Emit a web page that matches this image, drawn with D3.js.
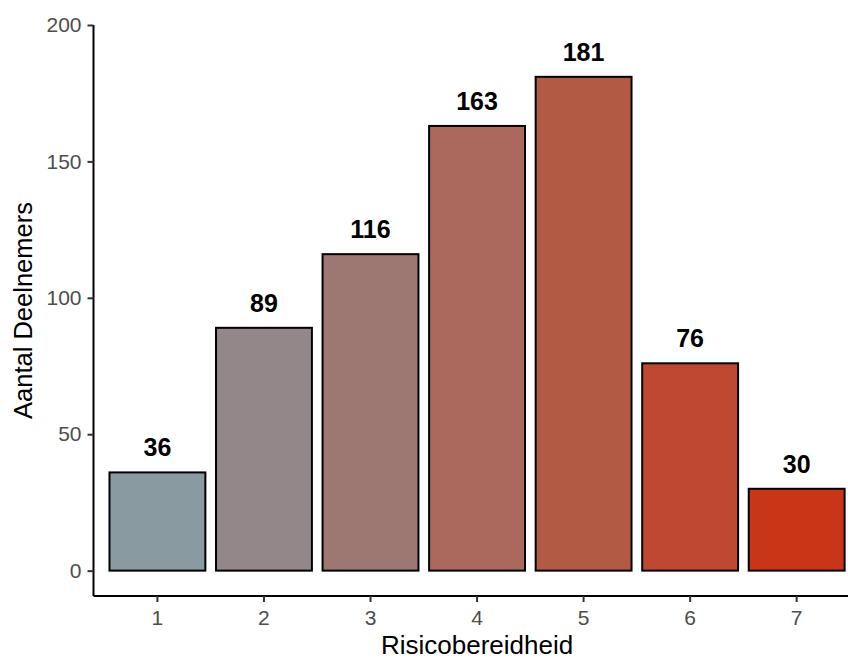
<!DOCTYPE html>
<html>
<head>
<meta charset="utf-8">
<script src="https://cdn.jsdelivr.net/npm/d3@7"></script>
<style>
html,body{margin:0;padding:0;background:#fff;}
svg{display:block;}
</style>
</head>
<body>
<svg id="chart" width="848" height="660"></svg>
<script>
const categories = ["1","2","3","4","5","6","7"];
const counts = [36, 89, 116, 163, 181, 76, 30];
const barColors = ["#899ba1","#948789","#9d7872","#aa695c","#b35a44","#be4830","#c93517"];
const yTicks = [0, 50, 100, 150, 200];
const xTitle = "Risicobereidheid";
const yTitle = "Aantal Deelnemers";

const svg = d3.select("#chart");
const font = "Liberation Sans, Arial, sans-serif";

const x = d3.scaleBand().domain(categories).range([93.5, 860.6])
  .paddingInner(0.1).paddingOuter(0.15);
const y = d3.scaleLinear().domain([-9.3, 200]).range([596, 25]);

// bars
svg.append("g").selectAll("rect").data(categories).join("rect")
  .attr("x", d => x(d))
  .attr("width", x.bandwidth())
  .attr("y", (d,i) => y(counts[i]))
  .attr("height", (d,i) => y(0) - y(counts[i]))
  .attr("fill", (d,i) => barColors[i])
  .attr("stroke", "#000")
  .attr("stroke-width", 2);

// value labels
svg.append("g").selectAll("text").data(categories).join("text")
  .attr("x", d => x(d) + x.bandwidth()/2)
  .attr("y", (d,i) => y(counts[i]) - 16)
  .attr("text-anchor", "middle")
  .attr("font-family", font)
  .attr("font-weight", "bold")
  .attr("font-size", 25)
  .attr("fill", "#000")
  .text((d,i) => counts[i]);

// y axis
const yAxis = svg.append("g").attr("transform", "translate(93.5,0)")
  .call(d3.axisLeft(y).tickValues(yTicks).tickSize(6).tickPadding(6));
yAxis.select(".domain").attr("stroke", "#000").attr("stroke-width", 2)
  .attr("d", `M0,${y(200)}V${596}`);
yAxis.selectAll(".tick line").attr("stroke", "#333").attr("stroke-width", 2);
yAxis.selectAll(".tick text").attr("font-family", font).attr("font-size", 21).attr("fill", "#4d4d4d");

// x axis
const xAxis = svg.append("g").attr("transform", "translate(0,596)")
  .call(d3.axisBottom(x).tickSize(6).tickPadding(8));
xAxis.select(".domain").attr("stroke", "#000").attr("stroke-width", 2)
  .attr("d", `M93.5,0H860.6`);
xAxis.selectAll(".tick line").attr("stroke", "#333").attr("stroke-width", 2);
xAxis.selectAll(".tick text").attr("font-family", font).attr("font-size", 21).attr("fill", "#4d4d4d");

// titles
svg.append("text").attr("x", (93.5+860.6)/2).attr("y", 654)
  .attr("text-anchor", "middle").attr("font-family", font).attr("font-size", 26)
  .attr("fill", "#000").text(xTitle);
svg.append("text").attr("transform", `translate(31.5,${(25+596)/2}) rotate(-90)`)
  .attr("text-anchor", "middle").attr("font-family", font).attr("font-size", 25.5)
  .attr("fill", "#000").text(yTitle);
</script>
</body>
</html>
